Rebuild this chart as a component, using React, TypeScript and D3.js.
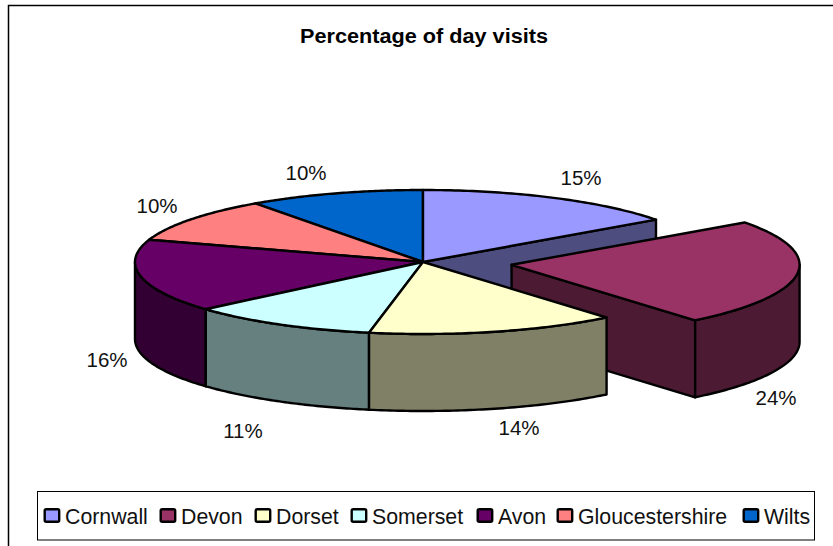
import React, { useEffect, useRef } from 'react';
import * as d3 from 'd3';

const counties = ['Cornwall', 'Devon', 'Dorset', 'Somerset', 'Avon', 'Gloucestershire', 'Wilts'];
const visits = [15, 24, 14, 10.6, 16.4, 10.1, 9.9];
const topColors = ['#9999FF', '#993366', '#FFFFCC', '#CCFFFF', '#660066', '#FF8080', '#0066CC'];
const labelPos = [[581, 178], [776, 398], [519, 428], [243, 431], [107, 360], [157, 206], [306, 173]];
const legendX = [45, 161, 256, 352, 478, 558, 744];

const width = 833, height = 546;
const cx = 423, cy = 262, rx = 288, ry = 72, depth = 77;
const explodeIdx = 1, explodeBy = 0.31;

const App = () => {
  const ref = useRef<SVGSVGElement>(null);

  useEffect(() => {
    const svg = d3.select(ref.current);
    svg.selectAll('*').remove();

    svg.append('rect').attr('x', 8.5).attr('y', 5.5).attr('width', 840).attr('height', 560)
      .attr('fill', '#fff').attr('stroke', '#000').attr('stroke-width', 1.5);

    svg.append('text').attr('x', 424).attr('y', 42.5).attr('text-anchor', 'middle')
      .attr('font-family', 'Liberation Sans').attr('font-weight', 'bold').attr('font-size', 19.5)
      .attr('textLength', 248).attr('lengthAdjust', 'spacingAndGlyphs')
      .text('Percentage of day visits');

    const pie = d3.pie<number>().sort(null).startAngle(0).endAngle(2 * Math.PI);
    const arcs = pie(visits);
    const x = d3.scaleLinear().domain([-1, 1]).range([cx - rx, cx + rx]);
    const y = d3.scaleLinear().domain([-1, 1]).range([cy + ry, cy - ry]);
    const line = d3.line();

    const offset = (i: number) => {
      if (i !== explodeIdx) return [0, 0];
      const mid = (arcs[i].startAngle + arcs[i].endAngle) / 2;
      return [Math.sin(mid) * explodeBy, Math.cos(mid) * explodeBy];
    };
    const pt = (i: number, a: number, r = 1, dy = 0): [number, number] => {
      const [ox, oy] = offset(i);
      return [x(ox + r * Math.sin(a)), y(oy + r * Math.cos(a)) + dy];
    };
    const sweep = (i: number, a0: number, a1: number, dy = 0) =>
      d3.range(0, 61).map(k => pt(i, a0 + (a1 - a0) * k / 60, 1, dy));

    const draw = (pts: [number, number][], fill: string) =>
      svg.append('path').attr('d', line(pts) + 'Z').attr('fill', fill)
        .attr('stroke', '#000').attr('stroke-width', 2.4).attr('stroke-linejoin', 'round');

    const dark = (c: string) => d3.interpolateRgb(c, '#000')(0.5);

    // back slices first, the exploded one next, then the front ones
    [6, 5, 0, 1, 4, 3, 2].forEach(i => {
      const a = arcs[i];
      const c = topColors[i];
      // cut wall on the side facing the viewer
      if (i === 0 || i === 1) {
        const e = a.endAngle;
        draw([pt(i, e, 0), pt(i, e), pt(i, e, 1, depth), pt(i, e, 0, depth)], dark(c));
      }
      // outer wall, front half only
      const s = Math.max(a.startAngle, Math.PI / 2);
      const t = Math.min(a.endAngle, 3 * Math.PI / 2);
      if (s < t) {
        draw([...sweep(i, s, t), ...sweep(i, t, s, depth)], dark(c));
      }
      draw([pt(i, 0, 0), ...sweep(i, a.startAngle, a.endAngle)], c);
    });

    labelPos.forEach((p, i) => {
      svg.append('text').attr('x', p[0]).attr('y', p[1] + 7).attr('text-anchor', 'middle')
        .attr('font-family', 'Liberation Sans').attr('font-size', 20.5).attr('fill', '#111')
        .text(Math.round(visits[i]) + '%');
    });

    const legend = svg.append('g');
    legend.append('rect').attr('x', 37.5).attr('y', 491.5).attr('width', 777).attr('height', 48.5)
      .attr('fill', '#fff').attr('stroke', '#000').attr('stroke-width', 1);
    counties.forEach((name, i) => {
      legend.append('rect').attr('x', legendX[i] - 0.3).attr('y', 509.2).attr('width', 14.5).attr('height', 12.5).attr('rx', 1.5)
        .attr('fill', topColors[i]).attr('stroke', '#000').attr('stroke-width', 2.4);
      legend.append('text').attr('x', legendX[i] + 20).attr('y', 524)
        .attr('font-family', 'Liberation Sans').attr('font-size', 21.3).attr('fill', '#111').text(name);
    });
  }, []);

  return <svg ref={ref} width={width} height={height} style={{ position: 'absolute', left: 0, top: 0 }} />;
};

export default App;
